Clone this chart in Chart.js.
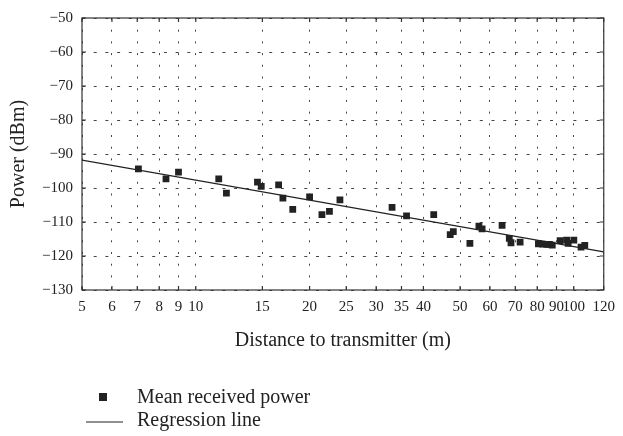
<!DOCTYPE html>
<html lang="en">
<head>
<meta charset="UTF-8" />
<title>Power vs distance</title>
<script src="https://cdn.jsdelivr.net/npm/chart.js"></script>
<style>
  html, body { margin: 0; padding: 0; background: #fff; }
  #wrap { width: 623px; height: 436px; position: relative; }
</style>
</head>
<body>
<div id="wrap"><canvas id="chart"></canvas></div>
<script>
// measured points (distance in m, mean power in dBm)
const distances = [7.05, 8.34, 9.0, 11.5, 12.05, 14.56, 14.9, 16.56, 17.0, 18.05, 20.0,
  21.56, 22.57, 24.06, 33.05, 36.1, 42.6, 47.1, 48.0, 53.1, 56.1, 57.2, 64.6, 67.5, 68.2,
  72.1, 80.6, 82.7, 84.8, 86.2, 87.7, 92.0, 95.7, 96.6, 100.0, 104.5, 106.9];
const meanPower = [-94.4, -97.3, -95.3, -97.3, -101.5, -98.3, -99.5, -99.1, -103.0, -106.3, -102.6,
  -107.8, -106.9, -103.5, -105.7, -108.2, -107.8, -113.7, -112.8, -116.3, -111.2, -112.0, -111.0, -114.8, -116.1,
  -115.9, -116.4, -116.5, -116.6, -116.6, -116.8, -115.5, -115.3, -116.3, -115.3, -117.4, -116.9];

// regression line end points
const regressionX = [5, 120];
const regressionY = [-91.8, -118.8];

const xTicks = [5, 6, 7, 8, 9, 10, 15, 20, 25, 30, 35, 40, 50, 60, 70, 80, 90, 100, 120];
const yTicks = [-130, -120, -110, -100, -90, -80, -70, -60, -50];

const seriesNames = ["Mean received power", "Regression line"];

const FONT = "'Liberation Serif', 'DejaVu Serif', serif";
const INK = "#222";

const frame = {
  id: "frame",
  afterDraw(chart) {
    const { ctx, chartArea: a, scales } = chart;
    ctx.save();
    ctx.strokeStyle = "#333";
    ctx.lineWidth = 1.2;
    ctx.strokeRect(a.left, a.top, a.right - a.left, a.bottom - a.top);
    ctx.beginPath();
    xTicks.forEach((v) => {
      const px = scales.x.getPixelForValue(v);
      ctx.moveTo(px, a.bottom); ctx.lineTo(px, a.bottom - 4);
      ctx.moveTo(px, a.top); ctx.lineTo(px, a.top + 4);
    });
    yTicks.forEach((v) => {
      const py = scales.y.getPixelForValue(v);
      ctx.moveTo(a.left, py); ctx.lineTo(a.left + 4, py);
      ctx.moveTo(a.right, py); ctx.lineTo(a.right - 4, py);
    });
    ctx.stroke();

    // legend
    ctx.fillStyle = INK;
    ctx.fillRect(99, 393, 8, 8);
    ctx.strokeStyle = INK;
    ctx.lineWidth = 1.2;
    ctx.beginPath();
    ctx.moveTo(86, 422); ctx.lineTo(123, 422);
    ctx.stroke();
    ctx.font = "20px " + FONT;
    ctx.textBaseline = "middle";
    ctx.fillText(seriesNames[0], 137, 398);
    ctx.fillText(seriesNames[1], 137, 421);
    ctx.restore();
  }
};

new Chart(document.getElementById("chart"), {
  type: "scatter",
  data: {
    datasets: [
      {
        label: seriesNames[0],
        data: distances.map((d, i) => ({ x: d, y: meanPower[i] })),
        pointStyle: "rect",
        pointRadius: 4.8,
        backgroundColor: INK,
        borderColor: INK,
        borderWidth: 0
      },
      {
        label: seriesNames[1],
        type: "line",
        data: regressionX.map((d, i) => ({ x: d, y: regressionY[i] })),
        borderColor: INK,
        borderWidth: 1.3,
        pointRadius: 0,
        fill: false
      }
    ]
  },
  options: {
    responsive: true,
    maintainAspectRatio: false,
    animation: false,
    layout: { padding: { top: 11, right: 11, bottom: 83, left: 0 } },
    plugins: { legend: { display: false }, tooltip: { enabled: false } },
    scales: {
      x: {
        type: "logarithmic",
        min: 5,
        max: 120,
        afterBuildTicks: (s) => { s.ticks = xTicks.map((v) => ({ value: v })); },
        afterFit: (s) => { s.height = 63; },
        ticks: {
          autoSkip: false,
          maxRotation: 0,
          padding: 8,
          color: INK,
          font: { family: FONT, size: 15 },
          callback: (v) => String(v)
        },
        grid: { color: "#444", lineWidth: 1, drawTicks: false },
        border: { display: false, dash: [2, 9.7] },
        title: {
          display: true,
          text: "Distance to transmitter (m)",
          color: INK,
          font: { family: FONT, size: 20 },
          padding: { top: 0, bottom: 0 }
        }
      },
      y: {
        min: -130,
        max: -50,
        afterBuildTicks: (s) => { s.ticks = yTicks.map((v) => ({ value: v })); },
        afterFit: (s) => { s.width = 82; },
        ticks: {
          padding: 9,
          color: INK,
          font: { family: FONT, size: 15 },
          callback: (v) => (v < 0 ? "\u2212" + Math.abs(v) : String(v))
        },
        grid: { color: "#444", lineWidth: 1, drawTicks: false },
        border: { display: false, dash: [3, 8.7] },
        title: {
          display: true,
          text: "Power (dBm)",
          color: INK,
          font: { family: FONT, size: 20 },
          padding: { top: 7, bottom: 7 }
        }
      }
    }
  },
  plugins: [frame]
});
</script>
</body>
</html>
